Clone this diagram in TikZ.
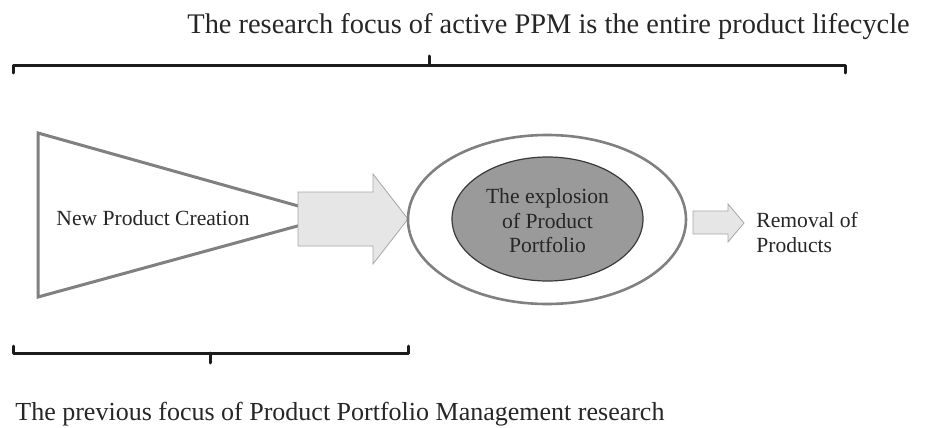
\documentclass[tikz,border=0pt]{standalone}
\usepackage{fontspec}
\setmainfont{Liberation Serif}
\definecolor{txt}{HTML}{262626}
\definecolor{bracketc}{HTML}{1C1C1C}
\definecolor{outline}{HTML}{808080}
\definecolor{arrowfill}{HTML}{E6E6E6}
\definecolor{arrowline}{HTML}{A6A6A6}
\definecolor{corefill}{HTML}{9A9A9A}
\definecolor{coreline}{HTML}{3A3A3A}
\tikzset{
  bracket/.style={draw=bracketc, line width=1.5pt, line cap=round, line join=round},
  funnel/.style={draw=outline, line width=1.5pt, fill=white, line join=miter},
  flowarrow/.style={draw=arrowline, line width=0.4pt, fill=arrowfill},
  smalltxt/.style={text=txt, font=\fontsize{10.8}{12.2}\selectfont, inner sep=0pt},
}
\begin{document}
\begin{tikzpicture}[x=0.5pt, y=-0.5pt]
\useasboundingbox (0,0) rectangle (926,428);

% headline and the bracket under it
\node[text=txt, font=\fontsize{14.2}{16}\selectfont, anchor=base west, inner sep=0pt] (title) at (187,33)
  {The research focus of active PPM is the entire product lifecycle};
\draw[bracket] (13,73) -- (13,65) -- (845,65) -- (845,73);
\draw[bracket] (429,65) -- (429,56);

% funnel for new product creation
\draw[funnel] (38,133) -- (334,216) -- (38,297) -- cycle;
\node[smalltxt] (npc) at (153,218) {New Product Creation};

% wide arrow into the portfolio
\draw[flowarrow] (298,192) -- (373,192) -- (373,174) -- (408,219) -- (373,264) -- (373,246) -- (298,246) -- cycle;

% portfolio rings
\draw[draw=outline, line width=1.3pt, fill=white] (547,219.5) ellipse [x radius=139, y radius=84.5];
\draw[draw=coreline, line width=0.6pt, fill=corefill] (547.5,219) ellipse [x radius=95.5, y radius=62];
\node[smalltxt, align=center] (core) at (547.5,221) {The explosion\\of Product\\Portfolio};

% small arrow towards removal
\draw[flowarrow] (693,211) -- (728,211) -- (728,204) -- (744,223) -- (728,242) -- (728,234) -- (693,234) -- cycle;
\node[smalltxt, align=left, anchor=base west] (removal) at (756,252) {Removal of\\Products};

% lower bracket and caption
\draw[bracket] (13,346) -- (13,353) -- (408,353) -- (408,346);
\draw[bracket] (210,353) -- (210,363);
\node[text=txt, font=\fontsize{13}{15}\selectfont, anchor=base west, inner sep=0pt] (caption) at (15,420)
  {The previous focus of Product Portfolio Management research};
\end{tikzpicture}
\end{document}
